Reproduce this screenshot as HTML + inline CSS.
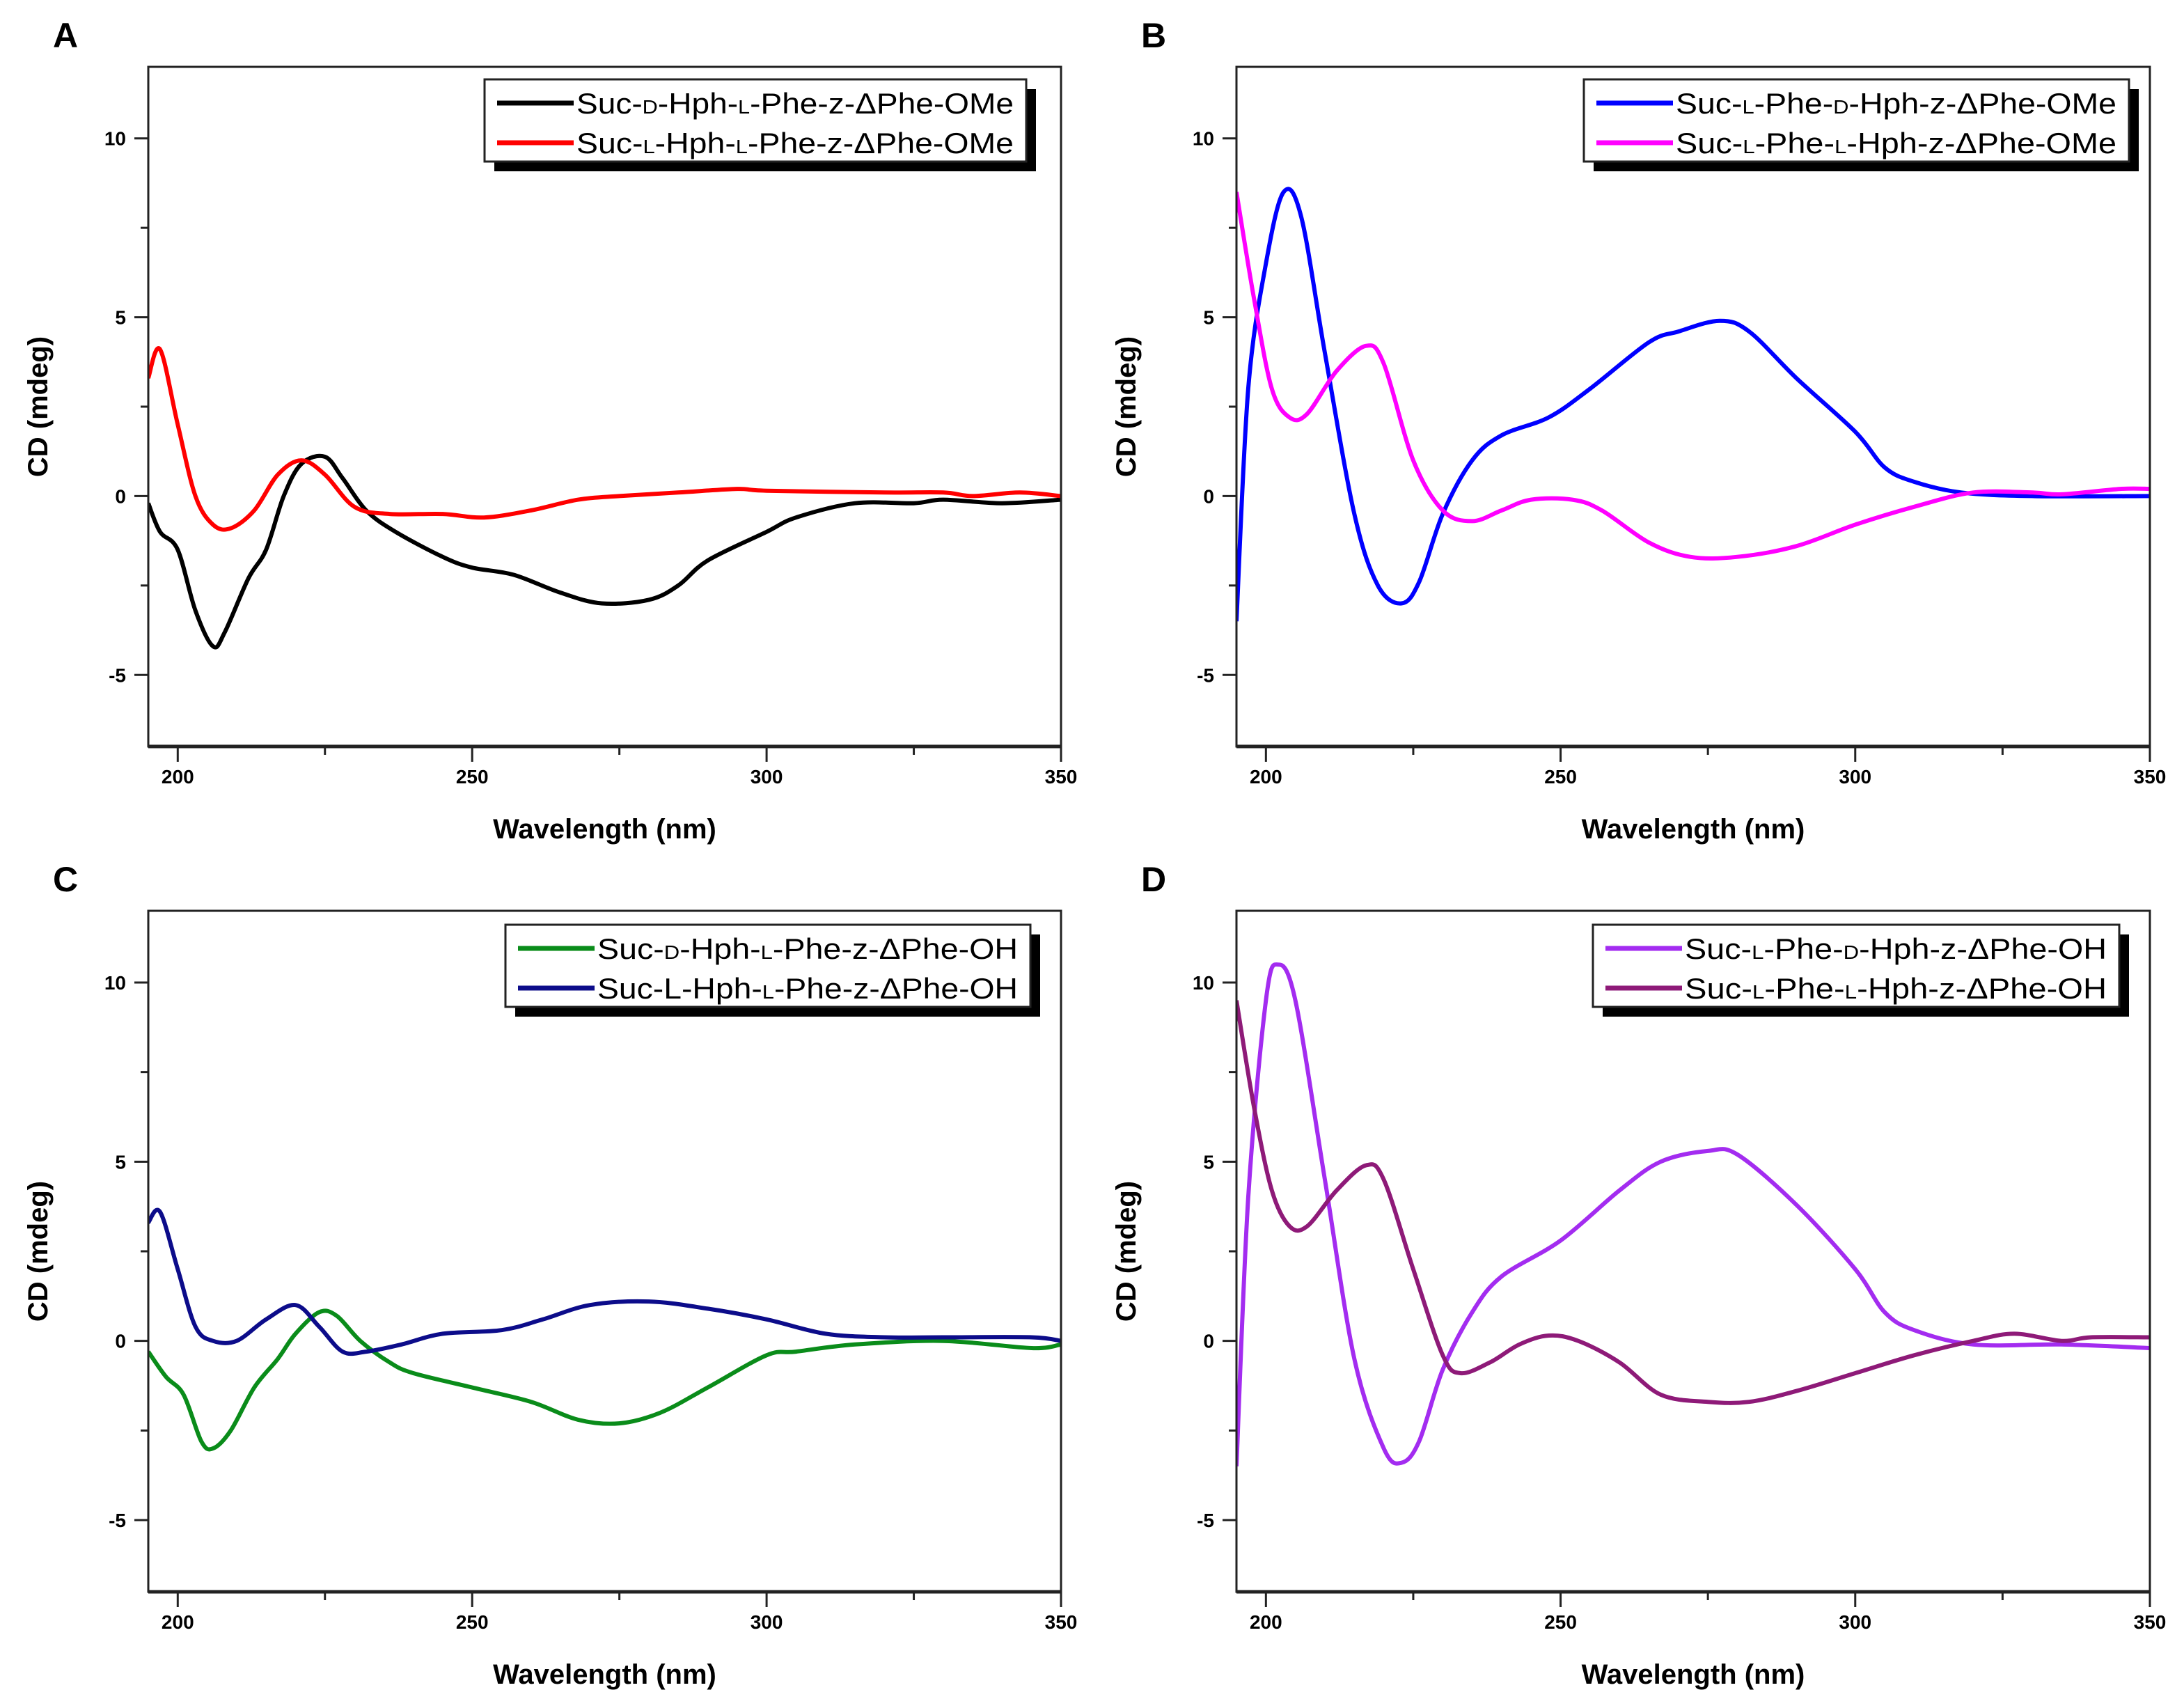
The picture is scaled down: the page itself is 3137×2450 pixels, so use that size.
<!DOCTYPE html>
<html><head><meta charset="utf-8"><style>
html,body{margin:0;padding:0;background:#fff;}
svg{display:block;font-family:"Liberation Sans",Arial,sans-serif;}
</style></head><body>
<svg id="fig" width="3137" height="2450" viewBox="0 0 3137 2450" xmlns="http://www.w3.org/2000/svg"></svg>
<script>
// ---- data (wavelength nm, CD mdeg) ----
const xTicks = [200, 250, 300, 350];
const xMinor = [225, 275, 325];
const yTicks = [10, 5, 0, -5];
const yMinor = [7.5, 2.5, -2.5];

const aBlackX = [195,197,200,203,206,208,212,215,218,221,225,228,232,237,245,250,257,265,272,280,285,290,300,305,315,325,330,340,350];
const aBlackY = [-0.2,-1.0,-1.5,-3.2,-4.2,-3.8,-2.3,-1.5,0,0.9,1.1,0.5,-0.4,-1.0,-1.7,-2.0,-2.2,-2.7,-3.0,-2.9,-2.5,-1.8,-1.0,-0.6,-0.2,-0.2,-0.1,-0.2,-0.1];
const aRedX = [195,197,200,203,206,209,213,217,221,225,230,236,245,252,260,268,275,285,295,300,320,330,335,343,350];
const aRedY = [3.3,4.1,2.0,0,-0.8,-0.9,-0.4,0.6,1.0,0.6,-0.3,-0.5,-0.5,-0.6,-0.4,-0.1,0,0.1,0.2,0.15,0.1,0.1,0,0.1,0];

const bBlueX = [195,197,200,203,206,210,215,219,223,226,230,235,240,248,255,265,270,277,282,290,300,305,310,318,330,350];
const bBlueY = [-3.5,3,6.5,8.5,7.8,4,-0.5,-2.5,-3.0,-2.4,-0.5,1.0,1.7,2.2,3.0,4.3,4.6,4.9,4.6,3.3,1.8,0.8,0.4,0.1,0,0];
const bMagX = [195,198,201,204,207,212,217,220,225,230,235,240,245,252,257,265,272,280,290,300,310,320,330,335,345,350];
const bMagY = [8.5,5.5,3.0,2.2,2.3,3.5,4.2,3.7,1.0,-0.4,-0.7,-0.4,-0.1,-0.1,-0.4,-1.3,-1.7,-1.7,-1.4,-0.8,-0.3,0.1,0.1,0.05,0.2,0.2];

const cGreenX = [195,198,201,204,206,209,213,217,220,224,227,231,236,240,250,260,268,275,282,290,300,305,315,330,345,350];
const cGreenY = [-0.3,-1.0,-1.5,-2.8,-3.0,-2.5,-1.3,-0.5,0.2,0.8,0.7,0,-0.6,-0.9,-1.3,-1.7,-2.2,-2.3,-2.0,-1.3,-0.4,-0.3,-0.1,0,-0.2,-0.1];
const cNavyX = [195,197,200,203,206,210,215,220,224,228,232,238,245,255,262,270,280,290,300,310,320,330,345,350];
const cNavyY = [3.3,3.6,2.0,0.4,0,0,0.6,1.0,0.4,-0.3,-0.3,-0.1,0.2,0.3,0.6,1.0,1.1,0.9,0.6,0.2,0.1,0.1,0.1,0];

const dPurX = [195,197,200,202,205,210,215,220,223,226,230,235,240,250,260,267,275,280,290,300,305,310,320,335,350];
const dPurY = [-3.5,4,9.5,10.5,9.5,4.5,-0.5,-3.0,-3.4,-2.8,-0.8,0.8,1.8,2.8,4.2,5.0,5.3,5.2,3.8,2.0,0.8,0.3,-0.1,-0.1,-0.2];
const dMarX = [195,198,201,204,207,212,217,220,225,230,233,238,243,248,253,260,267,275,282,290,300,310,320,327,335,340,350];
const dMarY = [9.5,6.5,4.2,3.2,3.2,4.2,4.9,4.5,2.0,-0.4,-0.9,-0.6,-0.1,0.15,0,-0.6,-1.5,-1.7,-1.7,-1.4,-0.9,-0.4,0,0.2,0,0.1,0.1];

const NS = "http://www.w3.org/2000/svg";
const svg = document.getElementById('fig');
function mk(tag, attrs, parent){const e=document.createElementNS(NS,tag);for(const k in attrs)e.setAttribute(k,attrs[k]);(parent||svg).appendChild(e);return e;}

const panels = [
 {id:'a', letter:'A', L:213, T:96, R:1524, B:1072, lx:696, ly:114, lw:778,
  series:[{x:aBlackX,y:aBlackY,c:'#000000',n:'black'},{x:aRedX,y:aRedY,c:'#ff0000',n:'red'}],
  labels:[[['Suc-',0],['D',1],['-Hph-',0],['L',1],['-Phe-z-ΔPhe-OMe',0]],[['Suc-',0],['L',1],['-Hph-',0],['L',1],['-Phe-z-ΔPhe-OMe',0]]]},
 {id:'b', letter:'B', L:1776, T:96, R:3088, B:1072, lx:2275, ly:114, lw:783,
  series:[{x:bBlueX,y:bBlueY,c:'#0000ff',n:'blue'},{x:bMagX,y:bMagY,c:'#ff00ff',n:'magenta'}],
  labels:[[['Suc-',0],['L',1],['-Phe-',0],['D',1],['-Hph-z-ΔPhe-OMe',0]],[['Suc-',0],['L',1],['-Phe-',0],['L',1],['-Hph-z-ΔPhe-OMe',0]]]},
 {id:'c', letter:'C', L:213, T:1308, R:1524, B:2286, lx:726, ly:1328, lw:754,
  series:[{x:cGreenX,y:cGreenY,c:'#0a8c1a',n:'green'},{x:cNavyX,y:cNavyY,c:'#0c0c8a',n:'navy'}],
  labels:[[['Suc-',0],['D',1],['-Hph-',0],['L',1],['-Phe-z-ΔPhe-OH',0]],[['Suc-L-Hph-',0],['L',1],['-Phe-z-ΔPhe-OH',0]]]},
 {id:'d', letter:'D', L:1776, T:1308, R:3088, B:2286, lx:2288, ly:1328, lw:756,
  series:[{x:dPurX,y:dPurY,c:'#a32cf0',n:'violet'},{x:dMarX,y:dMarY,c:'#8e1a78',n:'maroon'}],
  labels:[[['Suc-',0],['L',1],['-Phe-',0],['D',1],['-Hph-z-ΔPhe-OH',0]],[['Suc-',0],['L',1],['-Phe-',0],['L',1],['-Hph-z-ΔPhe-OH',0]]]}
];

function smoothPath(pts){
  let d='M'+pts[0][0].toFixed(1)+','+pts[0][1].toFixed(1);
  for(let i=0;i<pts.length-1;i++){
    const p0=pts[Math.max(0,i-1)],p1=pts[i],p2=pts[i+1],p3=pts[Math.min(pts.length-1,i+2)];
    const c1x=p1[0]+(p2[0]-p0[0])/6,c1y=p1[1]+(p2[1]-p0[1])/6;
    const c2x=p2[0]-(p3[0]-p1[0])/6,c2y=p2[1]-(p3[1]-p1[1])/6;
    d+=' C'+c1x.toFixed(1)+','+c1y.toFixed(1)+' '+c2x.toFixed(1)+','+c2y.toFixed(1)+' '+p2[0].toFixed(1)+','+p2[1].toFixed(1);
  }
  return d;
}

panels.forEach(p=>{
  const g=mk('g',{});
  
  
  const xs=v=>p.L+(v-195)/(350-195)*(p.R-p.L);
  const ys=v=>p.T+(12-v)/(12-(-7))*(p.B-p.T);
  const lt=mk('text',{x:p.L-119,y:p.T-28,'font-size':50,'font-weight':'bold','text-anchor':'middle'},g);
  lt.textContent=p.letter;
  
  
  // clip
  const cp=mk('clipPath',{id:'clip'+p.id},g);
  mk('rect',{x:p.L,y:p.T,width:p.R-p.L,height:p.B-p.T},cp);
  // series
  p.series.forEach(s=>{
    const pts=s.x.map((v,i)=>[xs(v),ys(s.y[i])]);
    const path=mk('path',{d:smoothPath(pts),fill:'none',stroke:s.c,'stroke-width':6,'stroke-linejoin':'round','clip-path':'url(#clip'+p.id+')'},g);
    
    
  });
  // frame
  const fr=mk('rect',{x:p.L,y:p.T,width:p.R-p.L,height:p.B-p.T,fill:'none',stroke:'#222','stroke-width':3},g);
  
  
  mk('line',{x1:p.L,y1:p.B,x2:p.R,y2:p.B,stroke:'#222','stroke-width':5},g);
  // x ticks
  xTicks.forEach(v=>{
    mk('line',{x1:xs(v),y1:p.B,x2:xs(v),y2:p.B+22,stroke:'#222','stroke-width':3},g);
    const t=mk('text',{x:xs(v),y:p.B+53,'font-size':28,'font-weight':'bold','text-anchor':'middle'},g);
    t.textContent=v;
    
    
  });
  xMinor.forEach(v=>mk('line',{x1:xs(v),y1:p.B,x2:xs(v),y2:p.B+12,stroke:'#222','stroke-width':3},g));
  yTicks.forEach(v=>{
    mk('line',{x1:p.L-20,y1:ys(v),x2:p.L,y2:ys(v),stroke:'#222','stroke-width':3},g);
    const t=mk('text',{x:p.L-32,y:ys(v)+10,'font-size':28,'font-weight':'bold','text-anchor':'end'},g);
    t.textContent=v;
    
    
  });
  yMinor.forEach(v=>mk('line',{x1:p.L-11,y1:ys(v),x2:p.L,y2:ys(v),stroke:'#222','stroke-width':3},g));
  const xt=mk('text',{x:(p.L+p.R)/2,y:p.B+132,'font-size':40,'font-weight':'bold','text-anchor':'middle'},g);
  xt.textContent='Wavelength (nm)';
  
  
  const cy=(p.T+p.B)/2, cx=p.L-145;
  const yt=mk('text',{x:cx,y:cy,'font-size':40,'font-weight':'bold','text-anchor':'middle',transform:'rotate(-90 '+cx+' '+cy+')'},g);
  yt.textContent='CD (mdeg)';
  
  
  // legend
  const lg=mk('g',{},g);
  
  
  mk('rect',{x:p.lx+14,y:p.ly+14,width:p.lw,height:118,fill:'#000'},lg);
  mk('rect',{x:p.lx,y:p.ly,width:p.lw,height:118,fill:'#fff',stroke:'#222','stroke-width':3},lg);
  p.series.forEach((s,i)=>{
    const yy=p.ly+34+i*57;
    const ln=mk('line',{x1:p.lx+18,y1:yy,x2:p.lx+128,y2:yy,stroke:s.c,'stroke-width':7},lg);
    
    
    const t=mk('text',{x:p.lx+132,y:yy+15,'font-size':42,textLength:p.lw-150,lengthAdjust:'spacingAndGlyphs'},lg);
    
    
    p.labels[i].forEach(([txt,small])=>{
      const ts=mk('tspan',small?{'font-size':28}:{},t);
      ts.textContent=txt;
    });
  });
});
</script>
</body></html>
